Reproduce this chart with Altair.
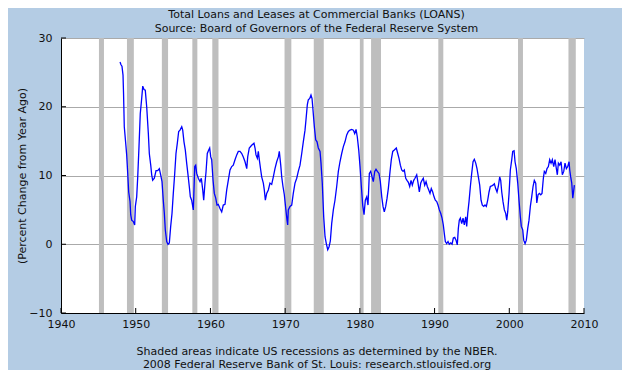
import altair as alt
import pandas as pd

years = [1947.90, 1948.03, 1948.16, 1948.30, 1948.37, 1948.47, 1948.70, 1948.79, 1948.93, 1949.06,
         1949.24, 1949.33, 1949.46, 1949.68, 1949.86, 1949.95, 1950.13, 1950.27, 1950.44, 1950.61,
         1950.80, 1950.94, 1951.11, 1951.28, 1951.47, 1951.69, 1951.82, 1952.01, 1952.14, 1952.27,
         1952.49, 1952.72, 1952.94, 1953.16, 1953.34, 1953.52, 1953.69, 1953.83, 1953.96, 1954.15,
         1954.32, 1954.50, 1954.68, 1954.86, 1955.03, 1955.22, 1955.39, 1955.57, 1955.75, 1955.93,
         1956.16, 1956.29, 1956.46, 1956.64, 1956.82, 1957.00, 1957.17, 1957.31, 1957.49, 1957.71,
         1957.90, 1958.03, 1958.16, 1958.38, 1958.61, 1958.78, 1958.97, 1959.10, 1959.27, 1959.41,
         1959.58, 1959.77, 1959.90, 1960.04, 1960.17, 1960.35, 1960.52, 1960.71, 1960.88, 1961.05,
         1961.28, 1961.51, 1961.72, 1961.95, 1962.18, 1962.39, 1962.62, 1962.85, 1963.06, 1963.29,
         1963.52, 1963.73, 1963.96, 1964.19, 1964.40, 1964.63, 1964.86, 1964.99, 1965.20, 1965.52,
         1965.83, 1965.97, 1966.10, 1966.28, 1966.41, 1966.54, 1966.73, 1966.86, 1967.08, 1967.21,
         1967.35, 1967.53, 1967.75, 1967.97, 1968.20, 1968.42, 1968.64, 1968.87, 1969.09, 1969.22,
         1969.41, 1969.54, 1969.71, 1969.89, 1970.08, 1970.25, 1970.34, 1970.42, 1970.65, 1970.88,
         1971.09, 1971.32, 1971.55, 1971.76, 1971.99, 1972.22, 1972.43, 1972.66, 1972.79, 1972.97,
         1973.10, 1973.29, 1973.46, 1973.60, 1973.73, 1973.91, 1974.09, 1974.27, 1974.44, 1974.67,
         1974.80, 1974.97, 1975.16, 1975.34, 1975.51, 1975.70, 1975.87, 1976.05, 1976.23, 1976.45,
         1976.67, 1976.90, 1977.12, 1977.34, 1977.57, 1977.79, 1978.01, 1978.24, 1978.46, 1978.68,
         1978.91, 1979.13, 1979.31, 1979.49, 1979.66, 1979.85, 1980.02, 1980.20, 1980.38, 1980.56,
         1980.73, 1980.92, 1981.09, 1981.27, 1981.45, 1981.63, 1981.80, 1981.99, 1982.16, 1982.34,
         1982.56, 1982.74, 1982.93, 1983.10, 1983.27, 1983.46, 1983.64, 1983.81, 1984.04, 1984.21,
         1984.40, 1984.61, 1984.88, 1985.07, 1985.24, 1985.42, 1985.60, 1985.78, 1985.95, 1986.14,
         1986.31, 1986.49, 1986.67, 1986.85, 1987.02, 1987.21, 1987.38, 1987.61, 1987.79, 1987.96,
         1988.15, 1988.32, 1988.49, 1988.68, 1988.86, 1989.03, 1989.22, 1989.39, 1989.56, 1989.75,
         1989.93, 1990.10, 1990.29, 1990.46, 1990.64, 1990.82, 1991.00, 1991.17, 1991.30, 1991.44,
         1991.62, 1991.80, 1991.97, 1992.16, 1992.34, 1992.51, 1992.70, 1992.87, 1993.04, 1993.18,
         1993.31, 1993.45, 1993.63, 1993.81, 1993.98, 1994.17, 1994.30, 1994.44, 1994.61, 1994.79,
         1994.97, 1995.15, 1995.32, 1995.51, 1995.68, 1995.86, 1996.04, 1996.22, 1996.39, 1996.58,
         1996.75, 1996.93, 1997.11, 1997.29, 1997.46, 1997.65, 1997.82, 1998.00, 1998.18, 1998.36,
         1998.53, 1998.72, 1998.85, 1998.99, 1999.16, 1999.34, 1999.52, 1999.66, 1999.79, 1999.97,
         2000.14, 2000.33, 2000.46, 2000.64, 2000.77, 2000.94, 2001.13, 2001.30, 2001.48, 2001.61,
         2001.80, 2001.93, 2002.11, 2002.28, 2002.47, 2002.64, 2002.82, 2003.00, 2003.18, 2003.35,
         2003.54, 2003.68, 2003.85, 2004.02, 2004.21, 2004.38, 2004.56, 2004.69, 2004.88, 2005.05,
         2005.23, 2005.41, 2005.59, 2005.76, 2005.95, 2006.12, 2006.30, 2006.43, 2006.57, 2006.75,
         2006.93, 2007.10, 2007.29, 2007.46, 2007.64, 2007.82, 2008.00, 2008.09, 2008.22, 2008.36,
         2008.50, 2008.58, 2008.71]

values = [26.5, 26.1, 25.9, 24.6, 22.0, 17.1, 14.2, 13.0, 10.3, 7.6,
          6.2, 4.3, 3.5, 3.3, 2.8, 5.5, 6.9, 9.8, 14.2, 19.0,
          21.2, 23.0, 22.5, 22.4, 20.0, 16.1, 13.2, 11.5, 10.1, 9.3,
          9.6, 10.7, 10.7, 11.0, 10.1, 9.1, 6.4, 4.5, 2.1, 0.4,
          0.0, 0.2, 2.6, 4.5, 7.4, 10.3, 13.2, 14.7, 16.4, 16.6,
          17.1, 16.6, 14.9, 13.7, 11.8, 10.1, 8.4, 6.9, 6.4, 5.0,
          11.3, 11.5, 10.3, 9.6, 9.1, 9.6, 7.9, 6.4, 8.9, 10.5,
          13.2, 13.7, 14.0, 12.7, 12.3, 9.3, 7.4, 6.7, 5.7, 5.8,
          5.2, 4.7, 5.7, 5.8, 7.9, 9.3, 10.8, 11.3, 11.5, 12.3,
          13.0, 13.5, 13.5, 13.2, 12.7, 12.0, 11.0, 12.7, 14.0, 14.4,
          14.7, 14.0, 13.0, 12.5, 13.5, 12.3, 10.8, 9.8, 8.9, 7.9,
          6.4, 7.4, 7.9, 8.9, 8.7, 9.8, 11.0, 12.0, 12.7, 13.5,
          11.5, 9.8, 8.4, 7.2, 5.2, 3.5, 2.8, 5.0, 5.5, 5.7,
          7.4, 8.9, 9.6, 10.6, 11.5, 13.2, 14.9, 16.6, 18.1, 20.3,
          21.0, 21.2, 21.7, 21.2, 19.5, 17.1, 15.2, 14.9, 14.0, 13.5,
          11.8, 8.9, 4.0, 1.1, 0.1, -0.8, -0.4, 0.5, 3.0, 5.0,
          6.4, 8.4, 10.6, 12.0, 13.2, 14.2, 14.9, 15.9, 16.4, 16.6,
          16.7, 16.6, 16.1, 16.7, 15.6, 13.7, 11.3, 8.4, 5.7, 4.3,
          6.4, 6.9, 5.7, 10.3, 10.6, 9.8, 9.1, 10.6, 10.9, 10.6,
          10.3, 9.1, 6.9, 5.5, 4.7, 5.5, 6.7, 8.1, 10.6, 12.3,
          13.5, 13.7, 14.0, 13.2, 12.5, 11.5, 10.8, 10.6, 10.8, 9.6,
          9.3, 9.0, 8.4, 9.3, 8.6, 9.3, 9.6, 10.1, 8.9, 7.6,
          8.9, 9.3, 9.6, 8.6, 9.1, 8.4, 7.9, 7.4, 8.1, 7.6,
          6.9, 6.4, 6.2, 5.7, 5.0, 4.5, 3.8, 2.8, 1.6, 0.4,
          0.1, 0.4, 0.0, 0.2, 0.0, 0.9, 1.0, 0.6, -0.1, 2.3,
          3.5, 3.8, 3.0, 3.8, 2.8, 4.0, 2.6, 4.5, 6.2, 8.4,
          10.3, 12.0, 12.35, 11.8, 11.0, 9.8, 8.6, 6.4, 5.7, 5.5,
          5.7, 5.5, 6.4, 7.6, 8.4, 8.5, 8.6, 8.8, 8.1, 7.6,
          8.4, 9.8, 9.3, 7.6, 6.2, 5.0, 4.5, 3.5, 4.7, 7.4,
          10.8, 12.3, 13.5, 13.6, 12.0, 11.0, 8.9, 6.4, 4.0, 2.6,
          2.1, 0.6, 0.1, 0.6, 2.3, 3.5, 5.5, 6.9, 8.4, 9.3,
          8.9, 6.0, 7.2, 7.4, 7.2, 7.4, 9.6, 10.6, 10.3, 11.0,
          11.3, 12.3, 11.8, 12.3, 11.3, 12.3, 11.0, 10.1, 11.8, 11.5,
          12.0, 10.1, 10.6, 11.8, 11.0, 11.3, 12.0, 10.8, 9.8, 8.9,
          6.7, 7.4, 8.6]

rec_start = [1945.08, 1948.83, 1953.50, 1957.58, 1960.25, 1969.92, 1973.83, 1980.00, 1981.50, 1990.50, 2001.17, 2007.92]
rec_end = [1945.75, 1949.75, 1954.33, 1958.25, 1961.08, 1970.83, 1975.17, 1980.50, 1982.83, 1991.17, 2001.83, 2008.90]

x_ticks = [1940, 1950, 1960, 1970, 1980, 1990, 2000, 2010]
y_ticks = [-10, 0, 10, 20, 30]

title_lines = ["Total Loans and Leases at Commercial Banks (LOANS)",
               "Source: Board of Governors of the Federal Reserve System"]
footer_lines = ["Shaded areas indicate US recessions as determined by the NBER.",
                "2008 Federal Reserve Bank of St. Louis: research.stlouisfed.org"]
y_title = "(Percent Change from Year Ago)"

FONT = "DejaVu Sans"
W, H = 523, 275

line_df = pd.DataFrame({"year": years, "value": values})
rec_df = pd.DataFrame({"start": rec_start, "end": rec_end})
xt_df = pd.DataFrame({"year": x_ticks})
yt_df = pd.DataFrame({"v": y_ticks})

xscale = alt.Scale(domain=[1940, 2010], nice=False, zero=False)
yscale = alt.Scale(domain=[-10, 30], nice=False, zero=False)

xaxis = alt.Axis(values=x_ticks, format="d", grid=False, ticks=False, tickSize=0,
                 labelFlush=False, domainColor="#000000", domainWidth=1,
                 labelFont=FONT, labelFontSize=11, labelColor="#111111", labelPadding=5,
                 title=footer_lines, titleFont=FONT, titleFontSize=11, titleFontWeight="normal",
                 titleColor="#111111", titleLineHeight=13, titleBaseline="top",
                 titleY=32, titleX=W / 2 - 6, titleAlign="center")
yaxis = alt.Axis(values=y_ticks, grid=True, gridColor="#AAAAAA", gridWidth=1,
                 ticks=False, tickSize=0, labelFlush=False,
                 domainColor="#000000", domainWidth=1,
                 labelFont=FONT, labelFontSize=11, labelColor="#111111", labelPadding=9,
                 title=y_title, titleFont=FONT, titleFontSize=11, titleFontWeight="normal",
                 titleColor="#111111", titleX=-39, titleY=H / 2, titleAngle=270,
                 titleAlign="center", titleBaseline="middle")

rec = alt.Chart(rec_df).mark_rect(color="#BEBEBE").encode(
    x=alt.X("start:Q", scale=xscale, axis=xaxis),
    x2="end:Q",
)

line = alt.Chart(line_df).mark_line(color="#0000FF", strokeWidth=1.3).encode(
    x=alt.X("year:Q", scale=xscale),
    y=alt.Y("value:Q", scale=yscale, axis=yaxis),
)

xt = alt.Chart(xt_df).mark_rule(color="#000000").encode(
    x=alt.X("year:Q", scale=xscale),
    y=alt.value(H), y2=alt.value(H - 5),
)
yt = alt.Chart(yt_df).mark_rule(color="#000000").encode(
    y=alt.Y("v:Q", scale=yscale),
    x=alt.value(0), x2=alt.value(5),
)

chart = alt.layer(rec, line, xt, yt).properties(
    width=W, height=H,
    background="#B4CCE4",
    padding={"left": 53, "top": 30, "right": 38, "bottom": 57},
    autosize=alt.AutoSizeParams(type="none"),
    title=alt.TitleParams(text=title_lines, font=FONT, fontSize=11, fontWeight="normal",
                          color="#111111", anchor="middle", dx=-6, offset=8, dy=10,
                          lineHeight=14),
).configure_view(fill="white", strokeWidth=0)

chart.save("out.html", embed_options={"renderer": "svg", "actions": False})
